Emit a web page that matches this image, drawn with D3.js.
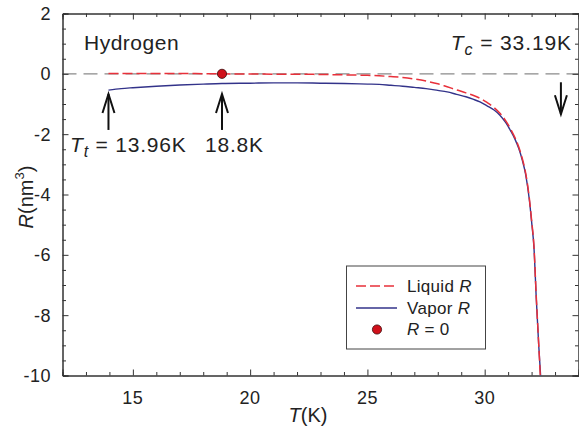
<!DOCTYPE html>
<html><head><meta charset="utf-8">
<script src="https://cdn.jsdelivr.net/npm/d3@7"></script>
<style>
body{margin:0;background:#fff;}
svg{display:block;font-family:"Liberation Sans",Arial,sans-serif;}
</style></head>
<body><svg id="c" width="579" height="428"></svg>
<script>
// ---- data ----
const liquidT = [13.96,15,16,17,18,18.8,20,21,22,23,24,25,25.5,26,26.5,27,27.5,28,28.4,28.8,29.2,29.5,29.8,30.1,30.4,30.65,30.9,31.1,31.3,31.45,31.6,31.75,31.9,32.0,32.1,32.2,32.3,32.37];
const liquidR = [0.01,0.01,0.01,0.01,0.005,0,-0.005,-0.01,-0.015,-0.02,-0.035,-0.05,-0.066,-0.09,-0.12,-0.17,-0.24,-0.33,-0.43,-0.53,-0.63,-0.71,-0.81,-0.95,-1.12,-1.31,-1.56,-1.82,-2.13,-2.42,-2.8,-3.3,-4.1,-4.85,-5.7,-7.4,-8.9,-10];
const vaporT = [13.96,14.5,15,16,17,18,18.8,20,21,22,23,24,25,25.5,26,26.5,27,27.5,28,28.4,28.8,29.2,29.5,29.8,30.1,30.4,30.65,30.9,31.1,31.3,31.45,31.6,31.75,31.9,32.0,32.1,32.2,32.3,32.4];
const vaporR = [-0.54,-0.49,-0.46,-0.41,-0.37,-0.34,-0.32,-0.31,-0.30,-0.30,-0.31,-0.32,-0.34,-0.35,-0.38,-0.41,-0.45,-0.49,-0.55,-0.60,-0.68,-0.76,-0.84,-0.93,-1.06,-1.2,-1.37,-1.62,-1.88,-2.18,-2.47,-2.85,-3.35,-4.15,-4.9,-5.75,-7.45,-8.95,-10.2];
const zeroPointT = [18.8];
const zeroPointR = [0];
const xMajorTicks = [15,20,25,30];
const xMinorTicks = [13,14,16,17,18,19,21,22,23,24,26,27,28,29,31,32,33];
const yMajorTicks = [-10,-8,-6,-4,-2,0,2];
const yMinorTicks = [-9.5,-9,-8.5,-7.5,-7,-6.5,-5.5,-5,-4.5,-3.5,-3,-2.5,-1.5,-1,-0.5,0.5,1,1.5];
const arrowUpT = [13.96, 18.8];
const arrowDownT = [33.25];

// ---- scales ----
const svg = d3.select("#c");
const L=62.5, R=578.5, T=13.5, B=375.5;
const x = d3.scaleLinear().domain([12,34]).range([L,R]);
const y = d3.scaleLinear().domain([-10,2]).range([B,T]);
const axisCol = "#333";

svg.append("defs").append("clipPath").attr("id","clip")
  .append("rect").attr("x",L).attr("y",T).attr("width",R-L).attr("height",B-T);

// zero reference line
svg.append("line").attr("x1",L).attr("x2",R).attr("y1",y(0)).attr("y2",y(0))
  .attr("stroke","#8a8a8a").attr("stroke-width",1.3).attr("stroke-dasharray","14,7");

// ---- axes ----
function addAxis(gen, tx, ty, ticks, size){
  const g = svg.append("g").attr("transform",`translate(${tx},${ty})`)
    .call(gen.tickValues(ticks).tickSize(size).tickFormat(""));
  g.select(".domain").attr("stroke",axisCol);
  g.selectAll(".tick line").attr("stroke",axisCol);
  return g;
}
addAxis(d3.axisBottom(x), 0, B, xMajorTicks, -6);
addAxis(d3.axisBottom(x), 0, B, xMinorTicks, -3.5);
addAxis(d3.axisTop(x), 0, T, xMajorTicks, -6);
addAxis(d3.axisTop(x), 0, T, xMinorTicks, -3.5);
addAxis(d3.axisLeft(y), L, 0, yMajorTicks, -6);
addAxis(d3.axisLeft(y), L, 0, yMinorTicks, -3.5);
addAxis(d3.axisRight(y), R, 0, yMajorTicks, -6);
addAxis(d3.axisRight(y), R, 0, yMinorTicks, -3.5);

// tick labels
svg.append("g").selectAll("text").data(xMajorTicks).join("text")
  .attr("x",d=>x(d)).attr("y",404).attr("text-anchor","middle").attr("letter-spacing",0.5)
  .attr("font-size",18).attr("fill","#222").text(d=>d);
svg.append("g").selectAll("text").data(yMajorTicks).join("text")
  .attr("x",51).attr("y",d=>y(d)+6.5).attr("text-anchor","end").attr("letter-spacing",0.5)
  .attr("font-size",18).attr("fill","#222").text(d=>d);

// axis titles
const xl = svg.append("text").attr("x",308).attr("y",422).attr("text-anchor","middle")
  .attr("font-size",20).attr("fill","#222");
xl.append("tspan").attr("font-style","italic").text("T");
xl.append("tspan").text("(K)");
const yl = svg.append("text").attr("transform","translate(33,197) rotate(-90)")
  .attr("text-anchor","middle").attr("font-size",20).attr("fill","#222");
yl.append("tspan").attr("font-style","italic").text("R");
yl.append("tspan").text("(nm");
yl.append("tspan").attr("font-size",13).attr("dy",-9).text("3");
yl.append("tspan").attr("dy",9).text(")");

// ---- curves ----
const line = d3.line().x(d=>x(d[0])).y(d=>y(d[1])).curve(d3.curveMonotoneX);
const plot = svg.append("g").attr("clip-path","url(#clip)");
plot.append("path").datum(vaporT.map((t,i)=>[t,vaporR[i]]))
  .attr("d",line).attr("fill","none").attr("stroke","#33338a").attr("stroke-width",1.4);
plot.append("path").datum(liquidT.map((t,i)=>[t,liquidR[i]]))
  .attr("d",line).attr("fill","none").attr("stroke","#e8303a").attr("stroke-width",1.5)
  .attr("stroke-dasharray","10,4");
plot.selectAll("circle.z").data(zeroPointT.map((t,i)=>[t,zeroPointR[i]])).join("circle")
  .attr("cx",d=>x(d[0])).attr("cy",d=>y(d[1])).attr("r",4.6)
  .attr("fill","#d0101a").attr("stroke","#3a0a0a").attr("stroke-width",0.8);

// ---- arrows ----
function arrow(px, yTip, yTail){
  const dir = yTail>yTip ? 1 : -1;
  const g = svg.append("g").attr("stroke","#111").attr("stroke-width",2).attr("fill","none");
  g.append("line").attr("x1",px).attr("x2",px).attr("y1",yTip).attr("y2",yTail);
  g.append("path").attr("d",`M${px-6},${yTip+dir*19} L${px},${yTip} L${px+6},${yTip+dir*19}`)
    .attr("stroke-linejoin","miter");
}
arrowUpT.forEach(t=>arrow(x(t), y(-0.67), y(-1.86)));
arrowDownT.forEach(t=>arrow(x(t), y(-1.34), y(-0.28)));

// ---- annotations ----
svg.append("text").attr("x",84).attr("y",49.5).attr("font-size",21).attr("letter-spacing",0.5)
  .attr("fill","#222").text("Hydrogen");
const tt = svg.append("text").attr("x",70).attr("y",151.5).attr("font-size",21).attr("letter-spacing",0.8).attr("fill","#222");
tt.append("tspan").attr("font-style","italic").text("T");
tt.append("tspan").attr("font-style","italic").attr("font-size",16).attr("dy",5).text("t");
tt.append("tspan").attr("dy",-5).text(" = 13.96K");
svg.append("text").attr("x",205).attr("y",151.5).attr("font-size",21).attr("letter-spacing",0.8)
  .attr("fill","#222").text("18.8K");
const tc = svg.append("text").attr("x",572).attr("y",50).attr("text-anchor","end").attr("font-size",21)
  .attr("letter-spacing",0.9).attr("fill","#222");
tc.append("tspan").attr("font-style","italic").text("T");
tc.append("tspan").attr("font-style","italic").attr("font-size",16).attr("dy",5).text("c");
tc.append("tspan").attr("dy",-5).text(" = 33.19K");

// ---- legend ----
const lg = svg.append("g");
lg.append("rect").attr("x",346.5).attr("y",266).attr("width",139).attr("height",83)
  .attr("fill","#fff").attr("stroke","#444").attr("stroke-width",1);
lg.append("line").attr("x1",356).attr("x2",397).attr("y1",286).attr("y2",286)
  .attr("stroke","#e8303a").attr("stroke-width",1.5).attr("stroke-dasharray","10,4");
lg.append("line").attr("x1",356).attr("x2",397).attr("y1",308).attr("y2",308)
  .attr("stroke","#33338a").attr("stroke-width",1.4);
lg.append("circle").attr("cx",377).attr("cy",329.5).attr("r",4.6)
  .attr("fill","#d0101a").attr("stroke","#3a0a0a").attr("stroke-width",0.8);
const lt = [["Liquid ","R",""],["Vapor ","R",""],["","R"," = 0"]];
lt.forEach((d,i)=>{
  const t = lg.append("text").attr("x",407).attr("y",292+i*21.7).attr("font-size",17)
    .attr("letter-spacing",0.3).attr("fill","#222");
  if(d[0]) t.append("tspan").text(d[0]);
  t.append("tspan").attr("font-style","italic").text(d[1]);
  if(d[2]) t.append("tspan").text(d[2]);
});
</script></body></html>
